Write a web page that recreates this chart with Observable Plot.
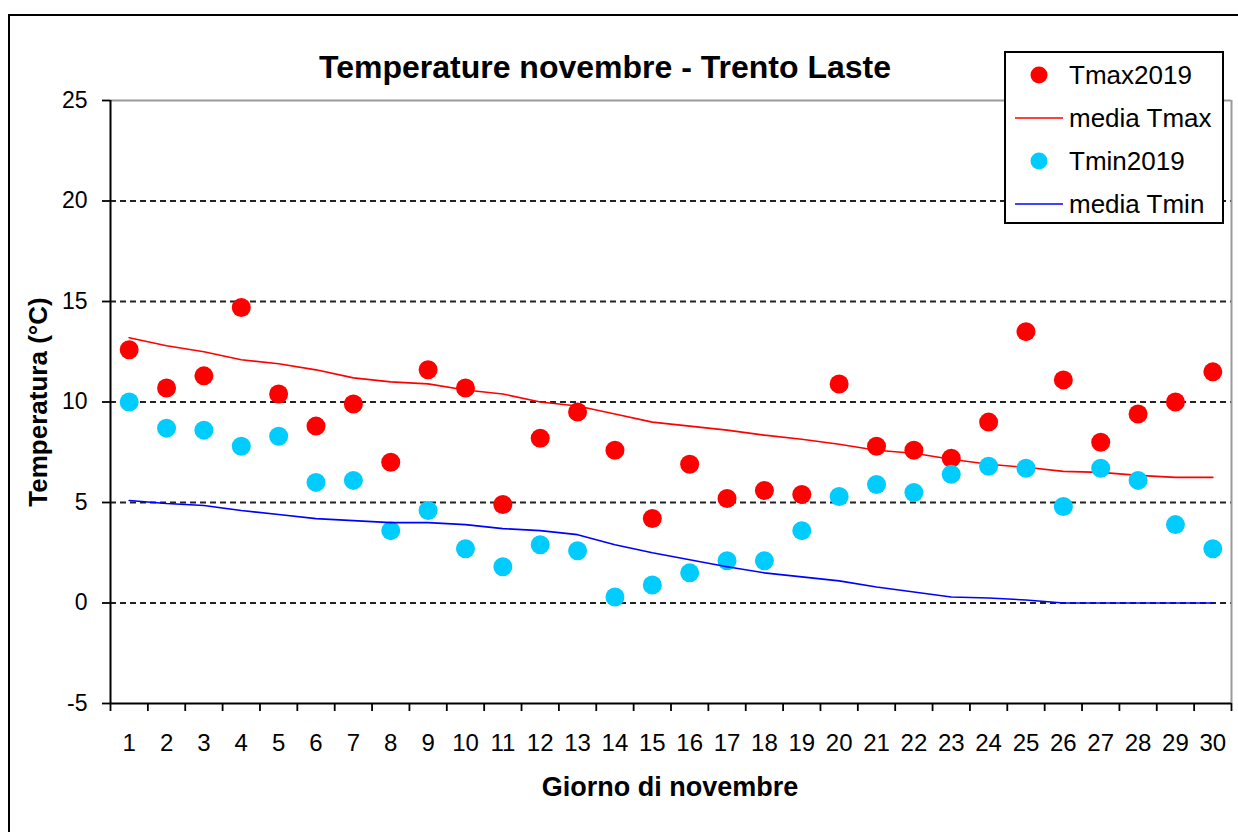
<!DOCTYPE html>
<html>
<head>
<meta charset="utf-8">
<script src="https://cdn.jsdelivr.net/npm/d3@7"></script>
<script src="https://cdn.jsdelivr.net/npm/@observablehq/plot@0.6"></script>
<style>
html, body { margin: 0; padding: 0; background: #fff; overflow: hidden; width: 1238px; height: 832px; }
#wrap { position: relative; width: 1238px; height: 832px; font-family: "Liberation Sans", Arial, sans-serif; color: #000; }
#chart { position: absolute; left: 0; top: 0; }
#frame { position: absolute; left: 8px; top: 14px; width: 1300px; height: 900px; border: 2px solid #000; pointer-events: none; }
.title { position: absolute; left: 605px; top: 51px; transform: translateX(-50%); font-weight: bold; font-size: 32px; line-height: 32px; white-space: nowrap; }
.xtitle { position: absolute; left: 670px; top: 774px; transform: translateX(-50%); font-weight: bold; font-size: 27px; line-height: 27px; white-space: nowrap; }
.ytitle { position: absolute; left: -162px; top: 389px; width: 400px; text-align: center; font-weight: bold; font-size: 26px; line-height: 26px; white-space: nowrap; transform: rotate(-90deg); transform-origin: 200px 13px; }
#legend { position: absolute; left: 1004px; top: 51px; }
</style>
</head>
<body>
<div id="wrap">
  <div id="chart"></div>
  <div class="title">Temperature novembre - Trento Laste</div>
  <div class="xtitle">Giorno di novembre</div>
  <div class="ytitle">Temperatura (°C)</div>
  <div id="legend"></div>
  <div id="frame"></div>
</div>
<script>
const days = [1,2,3,4,5,6,7,8,9,10,11,12,13,14,15,16,17,18,19,20,21,22,23,24,25,26,27,28,29,30];
const tmax2019 = [12.6,10.7,11.3,14.7,10.4,8.8,9.9,7.0,11.6,10.7,4.9,8.2,9.5,7.6,4.2,6.9,5.2,5.6,5.4,10.9,7.8,7.6,7.2,9.0,13.5,11.1,8.0,9.4,10.0,11.5];
const tmin2019 = [10.0,8.7,8.6,7.8,8.3,6.0,6.1,3.6,4.6,2.7,1.8,2.9,2.6,0.3,0.9,1.5,2.1,2.1,3.6,5.3,5.9,5.5,6.4,6.8,6.7,4.8,6.7,6.1,3.9,2.7];
const mediaTmax = [13.2,12.8,12.5,12.1,11.9,11.6,11.2,11.0,10.9,10.6,10.4,10.0,9.8,9.4,9.0,8.8,8.6,8.35,8.15,7.9,7.6,7.45,7.15,6.9,6.75,6.55,6.5,6.35,6.25,6.25];
const mediaTmin = [5.1,4.95,4.85,4.6,4.4,4.2,4.1,4.0,4.0,3.9,3.7,3.6,3.4,2.9,2.5,2.15,1.8,1.5,1.3,1.1,0.8,0.55,0.3,0.25,0.15,0.0,0.0,0.0,0.0,0.0];
const yTicks = [-5,0,5,10,15,20,25];
const gridLines = [0,5,10,15,20];

const seriesNames = ["Tmax2019","media Tmax","Tmin2019","media Tmin"];
const seriesColors = ["#ff0000","#ff0000","#00ccff","#0000ff"];
const seriesKinds = ["dot","line","dot","line"];

const data = days.map((d, i) => ({day: d, tmax: tmax2019[i], tmin: tmin2019[i], mTmax: mediaTmax[i], mTmin: mediaTmin[i]}));
const bounds = [days[0] - 0.5, ...days.map(d => d + 0.5)];
const xDomain = [bounds[0], bounds[bounds.length - 1]];

const plot = Plot.plot({
  width: 1238,
  height: 832,
  marginLeft: 110,
  marginRight: 7,
  marginTop: 100,
  marginBottom: 129,
  style: {fontFamily: "Liberation Sans, Arial, sans-serif", background: "transparent", color: "#000", overflow: "visible"},
  x: {domain: xDomain},
  y: {domain: [yTicks[0], yTicks[yTicks.length - 1]]},
  marks: [
    Plot.ruleY(gridLines, {stroke: "#222", strokeWidth: 2, strokeDasharray: "6,4"}),
    Plot.ruleY([yTicks[yTicks.length - 1]], {stroke: "#9a9a9a", strokeWidth: 2}),
    Plot.ruleX([xDomain[1]], {stroke: "#9a9a9a", strokeWidth: 2}),
    Plot.axisY({ticks: yTicks, tickSize: 8, tickPadding: 15, fontSize: 23, strokeWidth: 1.8, label: null, tickFormat: d => String(d)}),
    Plot.axisX({ticks: bounds, tickSize: 8, strokeWidth: 1.8, tickFormat: () => "", label: null}),
    Plot.axisX({ticks: days, tickSize: 0, tickPadding: 30, fontSize: 24, label: null, tickFormat: d => String(d)}),
    Plot.ruleX([xDomain[0]], {stroke: "#000", strokeWidth: 2}),
    Plot.ruleY([yTicks[0]], {stroke: "#000", strokeWidth: 2}),
    Plot.dot(data, {x: "day", y: "tmax", r: 9.5, fill: seriesColors[0]}),
    Plot.line(data, {x: "day", y: "mTmax", stroke: seriesColors[1], strokeWidth: 1.6}),
    Plot.dot(data, {x: "day", y: "tmin", r: 9.5, fill: seriesColors[2]}),
    Plot.line(data, {x: "day", y: "mTmin", stroke: seriesColors[3], strokeWidth: 1.6})
  ]
});
document.getElementById("chart").appendChild(plot);

// Legend
const lg = d3.select("#legend").append("svg").attr("width", 220).attr("height", 173)
  .style("font-family", "Liberation Sans, Arial, sans-serif").style("overflow", "visible");
lg.append("rect").attr("x", 1).attr("y", 1).attr("width", 218).attr("height", 171)
  .attr("fill", "#fff").attr("stroke", "#000").attr("stroke-width", 2);
seriesNames.forEach((name, i) => {
  const cy = 24 + i * 43;
  if (seriesKinds[i] === "dot") {
    lg.append("circle").attr("cx", 35).attr("cy", cy).attr("r", 8.5).attr("fill", seriesColors[i]);
  } else {
    lg.append("line").attr("x1", 11).attr("x2", 59).attr("y1", cy).attr("y2", cy)
      .attr("stroke", seriesColors[i]).attr("stroke-width", 1.6);
  }
  lg.append("text").attr("x", 65).attr("y", cy + 9).attr("font-size", 26).attr("fill", "#000").text(name);
});
</script>
</body>
</html>
